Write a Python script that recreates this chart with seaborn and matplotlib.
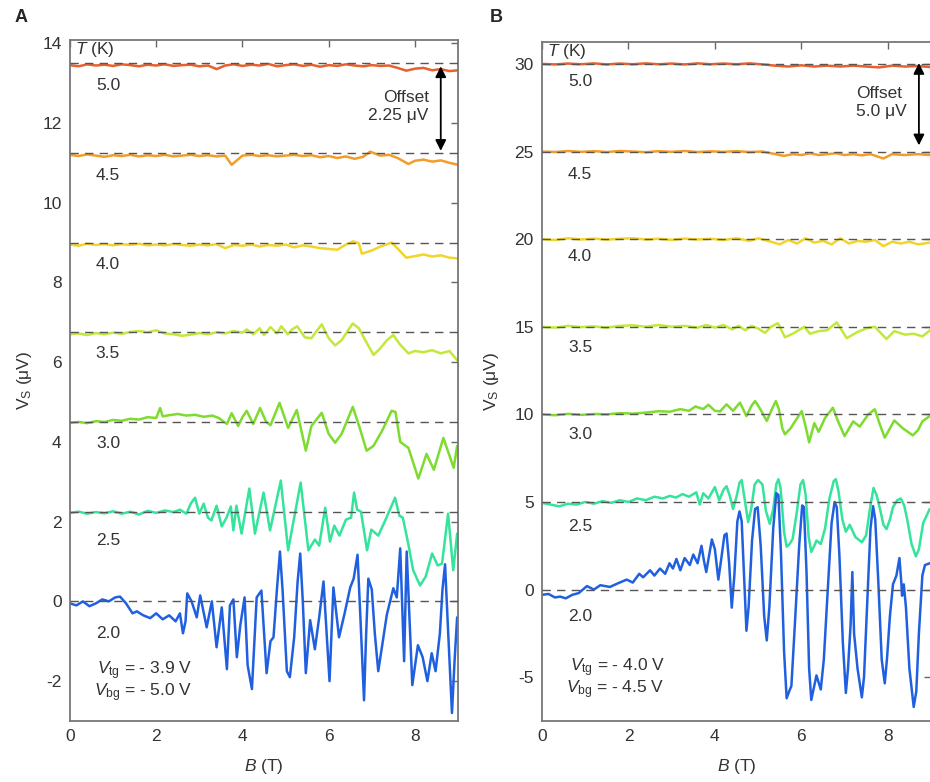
import numpy as np
import pandas as pd
import matplotlib
matplotlib.use("Agg")
import matplotlib.pyplot as plt
import seaborn as sns

# ---------------- data ----------------
temps = ["5.0", "4.5", "4.0", "3.5", "3.0", "2.5", "2.0"]
colors = ["#E8602C", "#F39C2A", "#F2D42A", "#C2E83A", "#7DDC2E", "#34E49A", "#2060E0"]
offsets_A = [13.5, 11.25, 9.0, 6.75, 4.5, 2.25, 0.0]
offsets_B = [30.0, 25.0, 20.0, 15.0, 10.0, 5.0, 0.0]

# Panel A (offset 2.25 uV)
A50_B = [0.0, 0.2, 0.4, 0.6, 0.8, 1.0, 1.2, 1.4, 1.6, 1.8, 2.0, 2.2, 2.4, 2.6, 2.8, 3.0, 3.2, 3.4, 3.6, 3.8,
         4.0, 4.2, 4.4, 4.6, 4.8, 5.0, 5.2, 5.4, 5.6, 5.8, 6.0, 6.2, 6.4, 6.6, 6.8, 7.0, 7.2, 7.4, 7.6, 7.8,
         8.0, 8.2, 8.4, 8.6, 8.8, 9.0]
A50_V = [13.45, 13.42, 13.47, 13.44, 13.46, 13.43, 13.47, 13.45, 13.42, 13.46,
         13.44, 13.47, 13.43, 13.45, 13.46, 13.42, 13.44, 13.35, 13.44, 13.47,
         13.43, 13.46, 13.44, 13.48, 13.42, 13.45, 13.47, 13.43, 13.46, 13.41,
         13.45, 13.43, 13.47, 13.44, 13.42, 13.45, 13.43, 13.44, 13.38, 13.31,
         13.36, 13.38, 13.32, 13.35, 13.30, 13.32]
A45_B = [0.0, 0.2, 0.4, 0.6, 0.8, 1.0, 1.2, 1.4, 1.6, 1.8, 2.0, 2.2, 2.4, 2.6, 2.8, 3.0, 3.2, 3.4, 3.6, 3.75,
         4.0, 4.2, 4.4, 4.6, 4.8, 5.0, 5.2, 5.4, 5.6, 5.8, 6.0, 6.2, 6.4, 6.6, 6.8, 6.96, 7.2, 7.4, 7.6, 7.85,
         8.0, 8.2, 8.4, 8.6, 8.8, 9.0]
A45_V = [11.2, 11.17, 11.21, 11.18, 11.15, 11.19, 11.17, 11.2, 11.16, 11.19,
         11.17, 11.2, 11.16, 11.18, 11.2, 11.17, 11.19, 11.16, 11.18, 10.95,
         11.18, 11.2, 11.17, 11.19, 11.16, 11.18, 11.2, 11.17, 11.19, 11.14,
         11.17, 11.12, 11.16, 11.1, 11.15, 11.28, 11.18, 11.2, 11.12, 10.97,
         11.05, 11.08, 11.03, 11.06, 11.0, 10.95]
A40_B = [0.0, 0.2, 0.4, 0.6, 0.8, 1.0, 1.2, 1.4, 1.6, 1.8, 2.0, 2.2, 2.4, 2.6, 2.8, 3.0, 3.2, 3.4, 3.6, 3.8,
         4.0, 4.2, 4.4, 4.6, 4.8, 5.0, 5.2, 5.4, 5.6, 5.8, 6.0, 6.2, 6.4, 6.57, 6.7, 6.77, 7.0, 7.2, 7.46, 7.6,
         7.8, 8.0, 8.2, 8.4, 8.6, 8.8, 9.0]
A40_V = [8.95, 8.92, 8.97, 8.94, 8.96, 8.93, 8.96, 8.94, 8.97, 8.93,
         8.95, 8.93, 8.96, 8.94, 8.92, 8.95, 8.93, 8.96, 8.86, 8.94,
         8.92, 8.95, 8.9, 8.94, 8.92, 8.95, 8.88, 8.93, 8.9, 8.86,
         8.84, 8.82, 8.95, 9.03, 8.98, 8.72, 8.8, 8.9, 9.0, 8.85,
         8.62, 8.66, 8.7, 8.65, 8.68, 8.62, 8.6]
A35_B = [0.0, 0.2, 0.4, 0.6, 0.8, 1.0, 1.2, 1.4, 1.6, 1.8, 2.0, 2.2, 2.4, 2.6, 2.8, 3.0, 3.2, 3.4, 3.6, 3.8,
         4.0, 4.1, 4.25, 4.4, 4.5, 4.65, 4.8, 4.9, 5.05, 5.15, 5.27, 5.45, 5.6, 5.72, 5.84, 6.0, 6.15, 6.3, 6.45, 6.56,
         6.7, 6.85, 7.04, 7.2, 7.35, 7.5, 7.65, 7.85, 8.0, 8.2, 8.4, 8.6, 8.8, 8.98]
A35_V = [6.7, 6.72, 6.68, 6.73, 6.7, 6.74, 6.71, 6.76, 6.78, 6.75,
         6.8, 6.72, 6.7, 6.66, 6.69, 6.73, 6.7, 6.75, 6.72, 6.78,
         6.74, 6.82, 6.7, 6.85, 6.68, 6.88, 6.72, 6.9, 6.7, 6.82,
         6.9, 6.62, 6.6, 6.78, 6.95, 6.6, 6.42, 6.55, 6.8, 6.97,
         6.85, 6.55, 6.18, 6.35, 6.55, 6.68, 6.45, 6.22, 6.28, 6.25,
         6.3, 6.22, 6.28, 6.05]
A30_B = [0.0, 0.2, 0.4, 0.6, 0.8, 1.0, 1.2, 1.4, 1.6, 1.8, 2.0, 2.09, 2.15, 2.3, 2.5, 2.7, 2.9, 3.1, 3.3, 3.45,
         3.64, 3.75, 3.9, 4.0, 4.1, 4.25, 4.41, 4.55, 4.65, 4.86, 5.06, 5.26, 5.47, 5.6, 5.84, 6.0, 6.15, 6.3, 6.56, 6.72,
         6.88, 7.04, 7.25, 7.46, 7.55, 7.66, 7.85, 8.08, 8.27, 8.44, 8.66, 8.9, 8.98]
A30_V = [4.48, 4.5, 4.47, 4.52, 4.5, 4.55, 4.53, 4.58, 4.56, 4.62,
         4.6, 4.85, 4.64, 4.67, 4.7, 4.66, 4.68, 4.63, 4.66, 4.6,
         4.45, 4.72, 4.4, 4.62, 4.78, 4.45, 4.85, 4.5, 4.42, 4.98,
         4.35, 4.8, 3.78, 4.4, 4.73, 4.2, 3.98, 4.2, 4.88, 4.35,
         3.78, 3.9, 4.3, 4.78, 4.75, 4.0, 3.85, 3.08, 3.7, 3.3,
         4.1, 3.35, 3.9]
A25_B = [0.0, 0.2, 0.4, 0.6, 0.8, 1.0, 1.2, 1.4, 1.6, 1.8, 2.0, 2.2, 2.4, 2.55, 2.7, 2.8, 2.9, 3.0, 3.1, 3.2,
         3.28, 3.4, 3.52, 3.63, 3.73, 3.79, 3.86, 3.98, 4.16, 4.29, 4.49, 4.64, 4.89, 5.06, 5.35, 5.53, 5.68, 5.78, 5.92, 6.03,
         6.13, 6.25, 6.4, 6.52, 6.59, 6.66, 6.75, 6.89, 6.99, 7.15, 7.3, 7.54, 7.64, 7.72, 7.84, 7.96, 8.12, 8.25, 8.4, 8.53,
         8.63, 8.77, 8.89, 8.98]
A25_V = [2.22, 2.25, 2.2, 2.24, 2.21, 2.26, 2.2, 2.25, 2.18, 2.27,
         2.22, 2.28, 2.24, 2.3, 2.2, 2.45, 2.6, 2.2, 2.45, 2.1,
         2.03, 2.4, 1.88, 2.1, 2.38, 1.78, 2.4, 1.7, 2.83, 1.7,
         2.73, 1.78, 3.03, 1.28, 2.98, 1.28, 1.55, 1.4, 2.35, 1.5,
         1.9, 1.65, 2.05, 2.1, 2.73, 2.3, 2.25, 1.28, 1.8, 1.65,
         2.0, 2.6, 2.15, 2.1, 1.48, 0.78, 0.4, 0.62, 1.2, 0.9,
         0.95, 2.2, 0.78, 1.7]
A20_B = [0.0, 0.15, 0.3, 0.45, 0.6, 0.75, 0.9, 1.05, 1.16, 1.3, 1.45, 1.55, 1.7, 1.86, 2.0, 2.15, 2.3, 2.45, 2.55, 2.62,
         2.68, 2.72, 2.82, 2.94, 3.02, 3.17, 3.29, 3.4, 3.52, 3.64, 3.71, 3.79, 3.87, 3.95, 4.05, 4.12, 4.22, 4.33, 4.44, 4.56,
         4.65, 4.72, 4.8, 4.87, 4.93, 5.03, 5.1, 5.2, 5.28, 5.34, 5.4, 5.47, 5.57, 5.68, 5.78, 5.88, 6.02, 6.11, 6.24, 6.37,
         6.5, 6.58, 6.67, 6.74, 6.82, 6.87, 6.92, 7.0, 7.07, 7.15, 7.35, 7.5, 7.58, 7.66, 7.75, 7.81, 7.94, 8.07, 8.18, 8.29,
         8.39, 8.48, 8.58, 8.64, 8.7, 8.76, 8.86, 8.92, 8.98]
A20_V = [-0.05, -0.1, 0.0, -0.12, -0.05, 0.05, 0.0, 0.1, 0.12, -0.05,
         -0.3, -0.25, -0.35, -0.42, -0.3, -0.45, -0.35, -0.5, -0.3, -0.8,
         -0.5, 0.2, 0.0, -0.4, 0.15, -0.65, 0.0, -1.15, -0.15, -1.7,
         -0.1, 0.05, -1.4, -0.6, 0.1, -1.6, -2.2, 0.1, 0.27, -1.8,
         -1.0, -0.9, 0.3, 1.25, 0.3, -1.75, -1.9, -0.9, 0.5, 1.2,
         0.0, -1.8, -0.47, -1.2, -0.4, 0.5, -2.0, 0.35, -0.9, -0.3,
         0.35, 0.57, 1.17, -0.5, -2.48, -0.8, 0.57, 0.3, -0.8, -1.75,
         -0.33, 0.33, 0.1, 1.33, -1.5, 1.25, -2.1, -1.1, -1.4, -2.0,
         -1.3, -1.75, -0.8, 0.3, 0.93, -0.5, -2.8, -1.5, -0.4]

# Panel B (offset 5.0 uV)
B50_B = [0.0, 0.3, 0.6, 0.9, 1.2, 1.5, 1.8, 2.1, 2.4, 2.7, 3.0, 3.3, 3.6, 3.9, 4.2, 4.5, 4.8, 5.1, 5.4, 5.7,
         6.0, 6.3, 6.6, 6.9, 7.2, 7.5, 7.8, 8.1, 8.4, 8.7, 8.97]
B50_V = [30.0, 29.97, 30.02, 29.98, 30.03, 29.97, 30.02, 29.98, 30.03, 29.98,
         30.02, 29.97, 30.03, 29.98, 30.02, 29.98, 30.03, 29.97, 29.9, 29.85,
         29.92, 29.85, 29.9, 29.85, 29.9, 29.85, 29.8, 29.9, 29.85, 29.88, 29.82]
B45_B = [0.0, 0.3, 0.6, 0.9, 1.2, 1.5, 1.8, 2.1, 2.4, 2.7, 3.0, 3.3, 3.6, 3.9, 4.2, 4.5, 4.8, 5.1, 5.4, 5.6,
         5.8, 6.0, 6.2, 6.4, 6.6, 6.8, 7.0, 7.2, 7.4, 7.6, 7.9, 8.1, 8.4, 8.7, 8.97]
B45_V = [25.0, 24.97, 25.03, 24.98, 25.02, 24.97, 25.03, 25.0, 24.96, 25.02,
         24.98, 25.03, 24.97, 25.01, 24.98, 25.02, 24.97, 25.0, 24.85, 24.75,
         24.85, 24.8, 24.9, 24.8, 24.85, 24.9, 24.8, 24.85, 24.78, 24.85,
         24.6, 24.85, 24.8, 24.85, 24.8]
B40_B = [0.0, 0.3, 0.6, 0.9, 1.2, 1.5, 1.8, 2.1, 2.4, 2.7, 3.0, 3.3, 3.6, 3.9, 4.2, 4.5, 4.8, 5.0, 5.3, 5.5,
         5.7, 5.9, 6.1, 6.3, 6.5, 6.7, 6.9, 7.1, 7.3, 7.5, 7.7, 7.9, 8.1, 8.3, 8.5, 8.7, 8.97]
B40_V = [20.0, 19.95, 20.05, 19.98, 20.03, 19.97, 20.02, 20.05, 19.98, 20.02,
         19.96, 20.03, 19.98, 20.02, 19.95, 20.05, 19.9, 20.05, 19.85, 19.7,
         19.95, 19.75, 20.05, 19.8, 19.9, 19.7, 20.05, 19.75, 19.9, 19.85,
         19.95, 19.6, 19.85, 19.75, 19.85, 19.7, 19.8]
B35_B = [0.0, 0.3, 0.6, 0.9, 1.2, 1.5, 1.8, 2.1, 2.4, 2.7, 3.0, 3.3, 3.6, 3.8, 4.0, 4.2, 4.4, 4.55, 4.7, 4.85,
         5.0, 5.16, 5.3, 5.46, 5.62, 5.8, 6.07, 6.2, 6.4, 6.6, 6.82, 7.05, 7.3, 7.5, 7.7, 7.97, 8.15, 8.4, 8.6, 8.8,
         8.98]
B35_V = [15.0, 14.95, 15.05, 14.98, 15.02, 14.95, 15.05, 15.08, 15.0, 15.1,
         15.0, 15.05, 14.95, 15.1, 14.95, 15.1, 14.85, 15.05, 14.8, 15.05,
         14.9, 14.65, 15.0, 15.2, 14.4, 14.6, 15.0, 14.6, 14.75, 14.8,
         15.25, 14.35, 14.7, 14.9, 15.0, 14.3, 14.75, 14.55, 14.6, 14.45,
         14.8]
B30_B = [0.0, 0.3, 0.6, 0.9, 1.2, 1.5, 1.8, 2.1, 2.4, 2.7, 2.96, 3.2, 3.4, 3.55, 3.73, 3.85, 4.0, 4.12, 4.27, 4.42,
         4.58, 4.73, 4.85, 4.93, 5.05, 5.2, 5.32, 5.41, 5.48, 5.56, 5.62, 5.75, 5.88, 6.01, 6.1, 6.18, 6.3, 6.4, 6.55, 6.73,
         6.85, 7.0, 7.2, 7.35, 7.55, 7.7, 7.82, 7.93, 8.05, 8.15, 8.35, 8.58, 8.7, 8.8, 8.97]
B30_V = [10.0, 9.95, 10.03, 9.97, 10.02, 10.0, 10.07, 10.04, 10.1, 10.18,
         10.15, 10.3, 10.2, 10.45, 10.3, 10.55, 10.2, 10.17, 10.57, 10.2,
         10.67, 9.9, 10.5, 10.76, 10.3, 9.62, 10.3, 10.76, 10.3, 9.2,
         8.86, 9.2, 9.7, 10.19, 9.3, 8.4, 9.5, 9.0, 9.8, 10.38,
         9.6, 8.76, 9.6, 9.3, 10.0, 10.29, 9.4, 8.67, 9.2, 9.65,
         9.2, 8.8, 9.1, 9.6, 9.9]
B25_B = [0.0, 0.2, 0.4, 0.6, 0.8, 1.0, 1.2, 1.4, 1.6, 1.8, 2.0, 2.2, 2.4, 2.6, 2.8, 2.96, 3.1, 3.25, 3.4, 3.57,
         3.65, 3.73, 3.85, 4.0, 4.1, 4.2, 4.27, 4.35, 4.42, 4.5, 4.57, 4.62, 4.68, 4.77, 4.84, 4.92, 5.0, 5.1, 5.18, 5.27,
         5.35, 5.42, 5.47, 5.52, 5.6, 5.66, 5.73, 5.8, 5.9, 5.98, 6.04, 6.1, 6.17, 6.23, 6.3, 6.35, 6.45, 6.55, 6.65, 6.75,
         6.8, 6.86, 6.95, 7.03, 7.12, 7.25, 7.4, 7.5, 7.58, 7.67, 7.74, 7.82, 7.9, 7.97, 8.05, 8.12, 8.22, 8.3, 8.38, 8.45,
         8.55, 8.65, 8.72, 8.82, 8.97]
B25_V = [4.95, 4.85, 4.75, 4.9, 4.85, 5.0, 4.9, 5.05, 4.95, 5.1,
         5.0, 5.2, 5.1, 5.3, 5.2, 5.35, 5.25, 5.45, 5.3, 5.55,
         4.85, 5.5, 5.2, 5.85, 5.1, 5.7, 5.9, 5.3, 4.6, 5.3,
         6.1, 6.25, 5.3, 3.85, 4.6, 6.0, 6.25, 6.0, 4.5, 3.75,
         4.6, 6.0, 6.3, 5.8, 3.3, 2.45, 2.6, 2.9, 4.5, 6.0,
         6.25, 5.4, 3.0, 2.15, 2.5, 2.8, 2.6, 3.5, 5.2, 6.2,
         6.3, 5.6, 4.0, 3.3, 3.7, 3.0, 2.7, 3.1, 4.5, 5.8,
         5.4, 4.6, 3.7, 3.45, 4.0, 4.7, 5.1, 5.2, 4.8, 4.0,
         2.6, 1.9, 2.3, 3.8, 4.6]
B20_B = [0.0, 0.15, 0.3, 0.42, 0.55, 0.7, 0.85, 1.04, 1.2, 1.35, 1.57, 1.75, 1.96, 2.1, 2.25, 2.34, 2.5, 2.6, 2.73, 2.85,
         2.95, 3.03, 3.11, 3.2, 3.3, 3.42, 3.5, 3.6, 3.69, 3.75, 3.8, 3.93, 4.0, 4.08, 4.15, 4.22, 4.27, 4.33, 4.39, 4.45,
         4.52, 4.57, 4.62, 4.68, 4.73, 4.78, 4.86, 4.93, 4.99, 5.06, 5.14, 5.2, 5.26, 5.35, 5.42, 5.47, 5.53, 5.6, 5.66, 5.72,
         5.77, 5.85, 5.95, 6.02, 6.06, 6.12, 6.18, 6.23, 6.29, 6.35, 6.4, 6.45, 6.52, 6.6, 6.7, 6.77, 6.82, 6.88, 6.96, 7.03,
         7.08, 7.14, 7.18, 7.22, 7.3, 7.4, 7.45, 7.52, 7.6, 7.66, 7.71, 7.78, 7.86, 7.93, 7.98, 8.05, 8.12, 8.2, 8.27, 8.31,
         8.33, 8.37, 8.42, 8.5, 8.6, 8.66, 8.72, 8.8, 8.86, 8.97]
B20_V = [-0.3, -0.25, -0.45, -0.4, -0.5, -0.3, -0.2, 0.2, 0.0, 0.25,
         0.15, 0.35, 0.57, 0.4, 0.9, 0.7, 1.1, 0.8, 1.2, 0.9,
         1.5, 1.2, 1.75, 1.1, 1.8, 1.4, 2.0, 1.5, 2.5, 1.6,
         1.0, 2.86, 2.3, 0.57, 1.8, 3.1, 3.2, 1.5, -1.03, 0.8,
         3.9, 4.46, 3.9, 0.5, -2.35, -1.0, 2.8, 4.6, 4.7, 2.5,
         -1.5, -2.9, -1.0, 3.5, 5.5, 5.4, 2.0, -3.5, -6.2, -5.8,
         -5.5, -2.0, 2.5, 4.8, 4.7, 1.0, -4.5, -6.3, -5.6, -4.9,
         -5.3, -5.7, -4.0, -0.5, 3.8, 5.0, 4.7, 2.0, -3.0, -5.9,
         -4.5, -2.0, 1.0, -2.5, -4.5, -6.15, -5.0, -1.0, 3.5, 4.76,
         4.0, 0.5, -4.0, -5.35, -4.0, -1.5, 0.3, 0.8, 1.8, 0.5,
         -0.35, 0.3, -1.0, -4.5, -6.7, -5.8, -2.5, 0.8, 1.4, 1.5]

panelA = [(A50_B, A50_V), (A45_B, A45_V), (A40_B, A40_V), (A35_B, A35_V),
          (A30_B, A30_V), (A25_B, A25_V), (A20_B, A20_V)]
panelB = [(B50_B, B50_V), (B45_B, B45_V), (B40_B, B40_V), (B35_B, B35_V),
          (B30_B, B30_V), (B25_B, B25_V), (B20_B, B20_V)]


def frame(traces):
    parts = []
    for t, (b, v) in zip(temps, traces):
        parts.append(pd.DataFrame({"B": b, "V": v, "T": t}))
    return pd.concat(parts, ignore_index=True)


dfA = frame(panelA)
dfB = frame(panelB)

# ---------------- style ----------------
sns.set_style("white")
plt.rcParams["font.family"] = ["Liberation Sans", "DejaVu Sans"]
plt.rcParams["mathtext.fontset"] = "custom"
plt.rcParams["mathtext.rm"] = "Liberation Sans"
plt.rcParams["mathtext.it"] = "Liberation Sans:italic"
plt.rcParams["mathtext.bf"] = "Liberation Sans:bold"
plt.rcParams["axes.unicode_minus"] = False

TXT = "#333333"
FS = 12.5
palette = dict(zip(temps, colors))

fig = plt.figure(figsize=(9.3, 7.82), dpi=100)
axA = fig.add_axes([70 / 930, 1 - 721 / 782, 388 / 930, 681 / 782])
axB = fig.add_axes([542 / 930, 1 - 721 / 782, 389 / 930, 679 / 782])


def style(ax, xlim, ylim, yticks, offsets):
    for off in offsets:
        ax.axhline(off, color="#555555", lw=1.0, dashes=(6, 4.5), zorder=5)
    ax.set_xlim(*xlim)
    ax.set_ylim(*ylim)
    ax.set_xticks([0, 2, 4, 6, 8])
    ax.set_yticks(yticks)
    ax.tick_params(direction="in", top=True, right=True, length=5, width=1.0,
                   colors="#666666", labelcolor=TXT, labelsize=FS, pad=6)
    for s in ax.spines.values():
        s.set_color("#777777")
        s.set_linewidth(1.3)
    ax.set_xlabel("$B$ (T)", fontsize=FS, color=TXT)
    ax.set_ylabel("V$_\\mathrm{S}$ (μV)", fontsize=FS, color=TXT)


sns.lineplot(data=dfA, x="B", y="V", hue="T", hue_order=temps, palette=palette,
             estimator=None, sort=False, legend=False, lw=1.8, ax=axA)
sns.lineplot(data=dfB, x="B", y="V", hue="T", hue_order=temps, palette=palette,
             estimator=None, sort=False, legend=False, lw=1.8, ax=axB)

style(axA, (0, 9), (-3.0, 14.08), [-2, 0, 2, 4, 6, 8, 10, 12, 14], offsets_A)
style(axB, (0, 9), (-7.5, 31.25), [-5, 0, 5, 10, 15, 20, 25, 30], offsets_B)

axA.yaxis.set_label_coords(-0.093, 0.5)
axB.yaxis.set_label_coords(-0.105, 0.5)
axA.xaxis.set_label_coords(0.5, -0.053)
axB.xaxis.set_label_coords(0.5, -0.053)

# temperature labels
labA_y = [12.93, 10.67, 8.45, 6.22, 3.97, 1.53, -0.8]
labB_y = [29.0, 23.7, 19.0, 13.8, 8.86, 3.6, -1.54]
for t, y in zip(temps, labA_y):
    axA.text(0.88, y, t, ha="center", va="center", fontsize=FS, color=TXT)
for t, y in zip(temps, labB_y):
    axB.text(0.88, y, t, ha="center", va="center", fontsize=FS, color=TXT)
axA.text(0.12, 13.85, "$T$ (K)", ha="left", va="center", fontsize=FS, color=TXT)
axB.text(0.12, 30.7, "$T$ (K)", ha="left", va="center", fontsize=FS, color=TXT)

# offset arrows
axA.annotate("", xy=(8.6, 11.3), xytext=(8.6, 13.42),
             arrowprops=dict(arrowstyle="<|-|>", color="black", lw=1.3, mutation_scale=16,
                             shrinkA=0, shrinkB=0), zorder=6)
axA.text(8.32, 12.42, "Offset\n2.25 μV", ha="right", va="center", multialignment="right",
         fontsize=FS, color=TXT, linespacing=1.25)
axB.annotate("", xy=(8.72, 25.35), xytext=(8.72, 30.05),
             arrowprops=dict(arrowstyle="<|-|>", color="black", lw=1.3, mutation_scale=16,
                             shrinkA=0, shrinkB=0), zorder=6)
axB.text(8.45, 27.8, "Offset\n5.0 μV", ha="right", va="center", multialignment="left",
         fontsize=FS, color=TXT, linespacing=1.25)

# gate voltages
axA.text(2.83, -1.73, "$V_\\mathrm{tg}$ = - 3.9 V", ha="right", va="center", fontsize=FS, color=TXT)
axA.text(2.83, -2.3, "$V_\\mathrm{bg}$ = - 5.0 V", ha="right", va="center", fontsize=FS, color=TXT)
axB.text(2.84, -4.46, "$V_\\mathrm{tg}$ = - 4.0 V", ha="right", va="center", fontsize=FS, color=TXT)
axB.text(2.84, -5.71, "$V_\\mathrm{bg}$ = - 4.5 V", ha="right", va="center", fontsize=FS, color=TXT)

# panel letters
fig.text(15 / 930, 1 - 17 / 782, "A", fontsize=13, fontweight="bold", va="center", ha="left")
fig.text(490 / 930, 1 - 17 / 782, "B", fontsize=13, fontweight="bold", va="center", ha="left")

fig.savefig("out.png", dpi=100)
